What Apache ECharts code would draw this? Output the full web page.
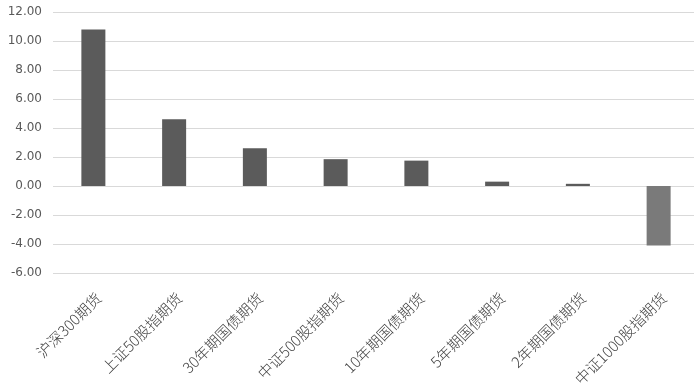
<!DOCTYPE html>
<html><head><meta charset="utf-8">
<script src="https://cdn.jsdelivr.net/npm/echarts@6/dist/echarts.min.js"></script>
<style>html,body{margin:0;padding:0;background:#fff}#c{width:694px;height:386px}</style>
</head><body><div id="c"></div>
<script>
var categories = ['沪深300期货','上证50股指期货','30年期国债期货','中证500股指期货','10年期国债期货','5年期国债期货','2年期国债期货','中证1000股指期货'];
var values = [10.8, 4.6, 2.6, 1.85, 1.75, 0.3, 0.15, -4.1];
var yTicks = [-6, -4, -2, 0, 2, 4, 6, 8, 10, 12];

var chart = echarts.init(document.getElementById('c'));
chart.setOption({
  animation: false,
  grid: {left: 53, right: -5, top: 12, bottom: 113, outerBoundsMode: 'none', containLabel: false},
  xAxis: {
    type: 'category', data: categories,
    axisLine: {show: false, onZero: false}, axisTick: {show: false},
    axisLabel: {rotate: 45, interval: 0, color: '#404040', fontSize: 15, margin: 17,
      verticalAlign: 'top', fontFamily: 'Noto Sans CJK SC', fontWeight: 300}
  },
  yAxis: {
    type: 'value', min: yTicks[0], max: yTicks[yTicks.length-1], interval: 2,
    axisLine: {show: false}, axisTick: {show: false},
    splitLine: {lineStyle: {color: '#d9d9d9', width: 1}},
    axisLabel: {color: '#595959', fontSize: 12, margin: 11, fontFamily: 'DejaVu Sans',
      formatter: function(v){return v.toFixed(2);}}
  },
  series: [{
    type: 'bar', barWidth: 24,
    data: values.map(function(v){return {value: v, itemStyle: {color: v < 0 ? '#7a7a7a' : '#5b5b5b'}};})
  }]
});
</script></body></html>
